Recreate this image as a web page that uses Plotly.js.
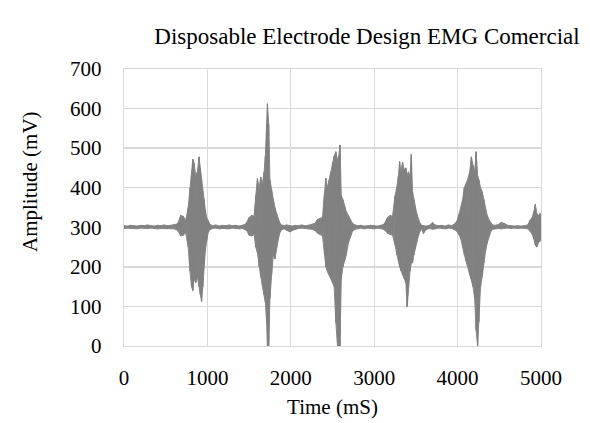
<!DOCTYPE html>
<html>
<head>
<meta charset="utf-8">
<script src="https://cdn.plot.ly/plotly-3.0.1.min.js"></script>
<style>html,body{margin:0;padding:0;background:#fff}#chart{width:590px;height:423px}</style>
</head>
<body>
<div id="chart"></div>
<script>
// Time samples (mS) with the signal's upper and lower envelope (mV)
const time = [
  0,40,80,120,160,200,240,280,320,360,400,440,480,520,560,600,630,
  650,680,710,740,770,790,810,825,840,860,880,900,915,930,945,960,975,990,1010,1030,
  1060,1100,1140,1180,1220,1260,1300,1340,1380,1420,1450,
  1470,1500,1530,1560,1580,1600,1620,1640,1660,1680,1695,1710,1720,1735,1750,1770,1790,1810,1830,1850,1870,1890,
  1920,1950,1990,2020,2050,2090,2130,2170,2210,2250,
  2290,2320,2350,2380,2405,2420,2440,2460,2480,2500,2520,2540,2560,2575,2590,2605,2625,2645,2665,2690,2715,2740,2770,
  2800,2840,2880,2920,2960,3000,3040,3080,3110,
  3130,3160,3190,3220,3250,3270,3290,3305,3320,3340,3360,3380,3395,3410,3430,3445,3460,3475,3490,3510,3530,3550,3570,
  3590,3620,3660,3700,3730,3770,3810,3850,3890,3930,3960,
  3990,4020,4040,4060,4080,4100,4120,4145,4165,4185,4205,4222,4240,4255,4275,4295,4315,4335,4355,4380,4400,4420,
  4450,4490,4520,4560,4600,4640,4680,4720,4760,4800,
  4840,4870,4895,4915,4932,4950,4970,4990,5000
];
const upper = [
  304,303,305,304,303,305,304,306,304,303,305,304,306,304,305,306,308,
  312,330,328,318,350,400,440,472,462,430,440,478,450,420,390,370,345,325,316,308,
  304,306,303,305,304,306,304,305,303,305,307,
  312,325,330,328,380,423,400,427,410,440,480,560,612,560,420,395,370,350,335,320,310,306,
  304,306,304,303,305,304,306,304,305,307,
  310,320,322,325,390,424,400,420,440,465,480,491,470,480,508,380,370,355,340,330,320,310,306,
  304,305,303,304,305,304,303,305,307,
  312,325,330,328,380,400,430,466,440,465,445,450,430,440,430,484,390,370,350,335,322,310,305,
  304,303,305,312,306,304,305,303,306,304,308,
  315,335,350,370,400,410,420,440,478,457,440,491,430,420,400,390,370,345,330,318,310,306,
  305,307,312,310,305,304,303,304,303,304,
  306,318,325,340,358,335,330,335,325
];
const lower = [
  297,298,297,297,296,298,297,297,298,297,296,297,297,296,297,296,294,
  290,278,280,286,250,190,150,140,170,160,175,150,130,112,150,210,240,265,287,294,
  297,298,296,297,297,296,298,297,296,297,295,
  292,280,278,282,250,235,200,175,150,130,110,60,0,0,120,180,230,220,250,270,287,294,
  296,292,288,292,295,297,298,297,296,295,
  292,285,282,278,230,200,187,180,170,160,150,60,0,0,0,170,200,215,230,260,275,290,295,
  297,298,296,298,297,296,298,297,295,
  292,285,282,280,255,230,215,200,190,180,170,160,99,150,190,210,210,230,245,265,278,290,296,
  284,294,297,295,296,298,297,296,298,297,294,
  290,280,270,250,230,215,200,180,170,150,120,40,0,60,150,175,210,240,260,280,290,295,
  296,297,296,297,298,297,298,297,298,297,
  296,290,282,270,255,250,262,265,275
];
const xTicks = [0, 1000, 2000, 3000, 4000, 5000];
const yTicks = [0, 100, 200, 300, 400, 500, 600, 700];

// oscillating trace built from the envelopes
const xs = [], ys = [];
for (let i = 0; i < time.length; i++) {
  xs.push(time[i]); ys.push(upper[i]);
  xs.push(time[i]); ys.push(lower[i]);
}

const font = 'Liberation Serif, Times New Roman, serif';
const grid = '#d9d9d9';
const sig = '#878787';

Plotly.newPlot('chart', [
  {x: time, y: lower, type: 'scatter', mode: 'lines', line: {color: sig, width: 1}, hoverinfo: 'skip'},
  {x: time, y: upper, type: 'scatter', mode: 'lines', fill: 'tonexty', fillcolor: sig,
   line: {color: sig, width: 1}, hoverinfo: 'skip'},
  {x: xs, y: ys, type: 'scatter', mode: 'lines', line: {color: '#808080', width: 1}, hoverinfo: 'skip'}
], {
  width: 590, height: 423,
  margin: {l: 124, r: 49, t: 69, b: 77},
  paper_bgcolor: '#fff', plot_bgcolor: '#fff',
  showlegend: false,
  font: {family: font, size: 21, color: '#000'},
  title: {text: 'Disposable Electrode Design EMG Comercial', font: {family: font, size: 23, color: '#000'},
          x: 367/590, xref: 'container', xanchor: 'center', y: 1 - 36/423, yref: 'container', yanchor: 'middle'},
  xaxis: {
    range: [0, 5000], tickvals: xTicks, ticktext: xTicks.map(String),
    showgrid: true, gridcolor: grid, gridwidth: 1.3, zeroline: false,
    showline: true, linecolor: grid, linewidth: 1.3, mirror: true,
    ticks: '', ticklabelstandoff: 12,
    tickfont: {family: font, size: 21},
    title: {text: 'Time (mS)', font: {family: font, size: 21}, standoff: 10}
  },
  yaxis: {
    range: [0, 700], tickvals: yTicks, ticktext: yTicks.map(String),
    showgrid: true, gridcolor: grid, gridwidth: 1.3, zeroline: false,
    showline: true, linecolor: grid, linewidth: 1.3, mirror: true,
    ticks: '', ticklabelstandoff: 17,
    tickfont: {family: font, size: 21}
  },
  annotations: [{
    text: 'Amplitude (mV)', textangle: -90, showarrow: false,
    xref: 'paper', yref: 'paper', x: -94/417, y: (346 - 182) / 277,
    xanchor: 'center', yanchor: 'middle',
    font: {family: font, size: 21, color: '#000'}
  }]
}, {displayModeBar: false, staticPlot: true});
</script>
</body>
</html>
